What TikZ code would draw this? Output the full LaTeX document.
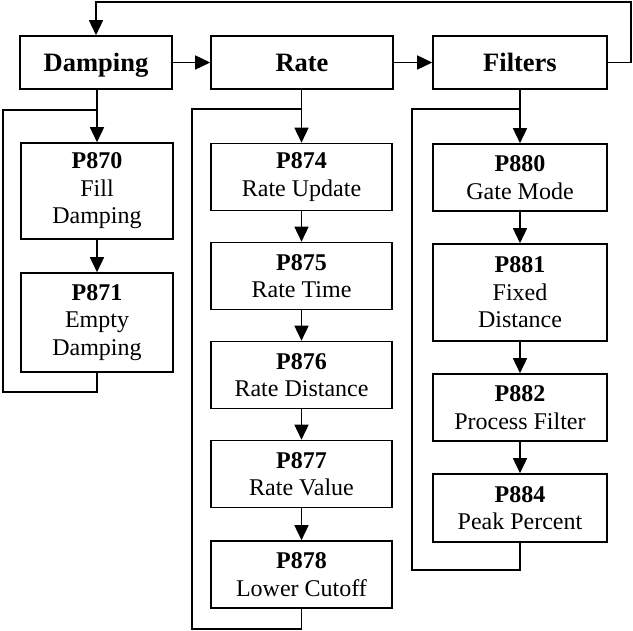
\documentclass[tikz,border=0pt]{standalone}
\usepackage{fontspec}
\setmainfont{Liberation Serif}
\usetikzlibrary{arrows.meta}
\begin{document}
\begin{tikzpicture}[x=1pt,y=-1pt,line width=1.6pt,
  box/.style={draw, rectangle, inner sep=0pt, align=center, font=\fontsize{24}{27.5}\selectfont},
  head/.style={draw, rectangle, inner sep=0pt, minimum height=53pt, text height=18pt, text depth=0pt, font=\fontsize{26.5}{30}\selectfont\bfseries},
  arr/.style={-{Triangle[length=15pt,width=14pt]}}]
\useasboundingbox (0,0) rectangle (633,631);
% headers
\node[head, minimum width=152pt] (damp) at (96,62.5) {Damping};
\node[head, minimum width=182pt] (rate) at (302,62.5) {Rate};
\node[head, minimum width=174pt] (filt) at (520,62.5) {Filters};
% damping column
\node[box, minimum width=152pt, minimum height=96pt] (p870) at (97,191) {\textbf{P870}\\Fill\\Damping};
\node[box, minimum width=152pt, minimum height=99pt] (p871) at (97,322.5) {\textbf{P871}\\Empty\\Damping};
% rate column
\node[box, minimum width=181pt, minimum height=67pt] (p874) at (301.5,177) {\textbf{P874}\\Rate Update};
\node[box, minimum width=181pt, minimum height=67pt] (p875) at (301.5,276) {\textbf{P875}\\Rate Time};
\node[box, minimum width=181pt, minimum height=67pt] (p876) at (301.5,375) {\textbf{P876}\\Rate Distance};
\node[box, minimum width=181pt, minimum height=67pt] (p877) at (301.5,474) {\textbf{P877}\\Rate Value};
\node[box, minimum width=181pt, minimum height=67pt] (p878) at (301.5,574.5) {\textbf{P878}\\Lower Cutoff};
% filters column
\node[box, minimum width=174pt, minimum height=67pt] (p880) at (520,177.5) {\textbf{P880}\\Gate Mode};
\node[box, minimum width=174pt, minimum height=97pt] (p881) at (520,292.5) {\textbf{P881}\\Fixed\\Distance};
\node[box, minimum width=174pt, minimum height=67pt] (p882) at (520,407.5) {\textbf{P882}\\Process Filter};
\node[box, minimum width=174pt, minimum height=68pt] (p884) at (520,508) {\textbf{P884}\\Peak Percent};
% header chain
\draw[arr] (damp.east) -- (rate.west);
\draw[arr] (rate.east) -- (filt.west);
\coordinate (tr) at (631,2);
\coordinate (tl) at (damp.north |- tr);
\draw[arr] (filt.east) -| (tr) -- (tl) -- (damp.north);
% damping column connectors
\draw[arr] (damp.south -| p870.north) -- (p870.north);
\draw[arr] (p870) -- (p871);
\coordinate (db) at (3,392);
\coordinate (dt) at (3,110);
\draw (p871.south) -- (p871.south |- db) -- (db) -- (dt) -- (dt -| p870.north);
% rate column connectors
\draw[arr] (rate.south -| p874.north) -- (p874.north);
\draw[arr] (p874) -- (p875);
\draw[arr] (p875) -- (p876);
\draw[arr] (p876) -- (p877);
\draw[arr] (p877) -- (p878);
\coordinate (rb) at (192,629);
\coordinate (rt) at (192,109);
\draw (p878.south) -- (p878.south |- rb) -- (rb) -- (rt) -- (rt -| p874.north);
% filters column connectors
\draw[arr] (filt.south -| p880.north) -- (p880.north);
\draw[arr] (p880) -- (p881);
\draw[arr] (p881) -- (p882);
\draw[arr] (p882) -- (p884);
\coordinate (fb) at (412,570);
\coordinate (ft) at (412,109);
\draw (p884.south) -- (p884.south |- fb) -- (fb) -- (ft) -- (ft -| p880.north);
\end{tikzpicture}
\end{document}
